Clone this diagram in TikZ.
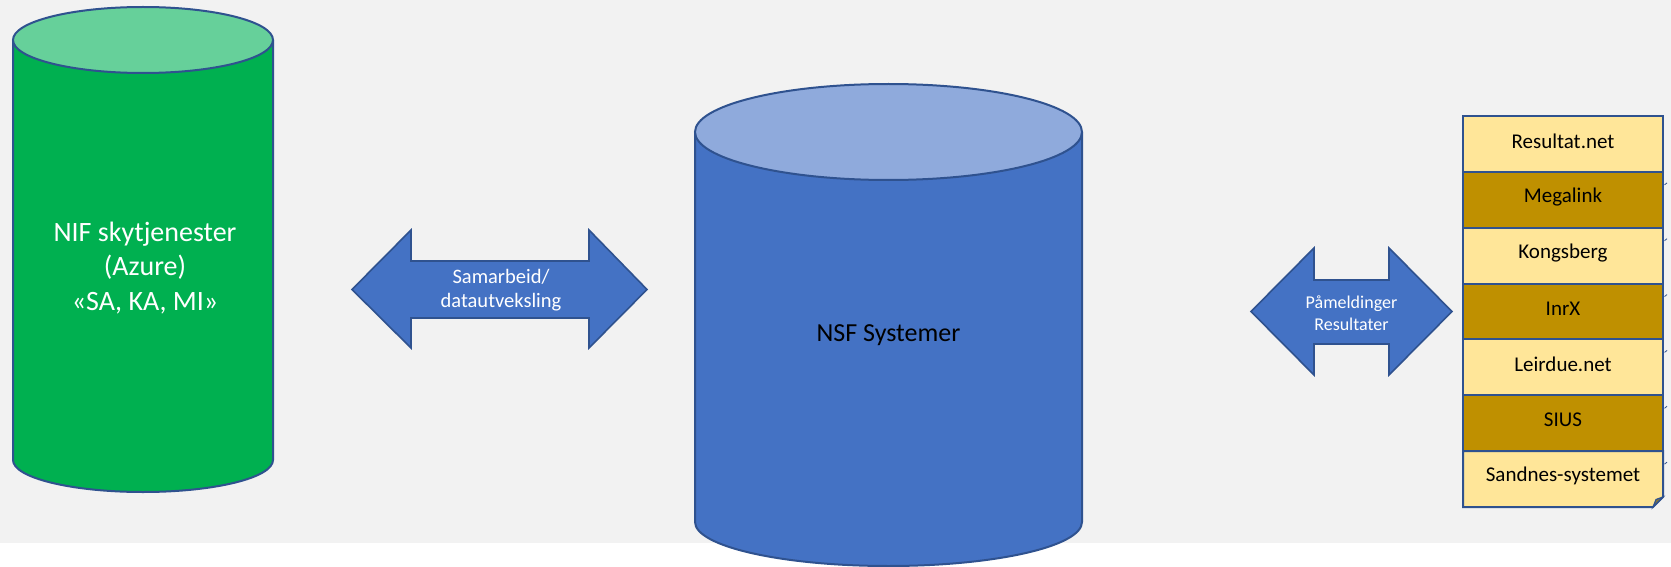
\documentclass[tikz,border=0pt]{standalone}
\usepackage{fontspec}
\setmainfont{Carlito}
\definecolor{bgray}{HTML}{F2F2F2}
\definecolor{bd}{HTML}{2F528F}
\definecolor{gside}{HTML}{00B050}
\definecolor{gtop}{HTML}{66D09A}
\definecolor{bside}{HTML}{4472C4}
\definecolor{btop}{HTML}{8FAADC}
\definecolor{rlight}{HTML}{FFE699}
\definecolor{rdark}{HTML}{BF9000}
\tikzset{
  cyl/.style={draw=bd, line width=2pt},
  arrowshape/.style={draw=bd, fill=bside, line width=1.6pt, line join=miter},
  rowbox/.style={draw=bd, line width=2pt},
  rowtext/.style={text=black, font=\fontsize{21}{25}\selectfont, inner sep=0pt},
}
\begin{document}
\begin{tikzpicture}[x=1pt,y=-1pt]
\useasboundingbox (0,0) rectangle (1671,567);
\fill[white] (0,0) rectangle (1671,567);
\fill[bgray] (0,0) rectangle (1671,543);
% green cylinder
\path[cyl, fill=gside] (13,40) -- (13,460) arc[start angle=180,end angle=0,x radius=130,y radius=32] -- (273,40);
\path[cyl, fill=gtop] (143,40) ellipse[x radius=130, y radius=33];
\node[text=white, align=center, font=\fontsize{28}{34.5}\selectfont, inner sep=0pt] (nif) at (145,268) {NIF skytjenester\\(Azure)\\«SA, KA, MI»};
% blue cylinder
\path[cyl, fill=bside] (695,132) -- (695,522) arc[start angle=180,end angle=0,x radius=193.5,y radius=44] -- (1082,132);
\path[cyl, fill=btop] (888.5,132) ellipse[x radius=193.5, y radius=48];
\node[text=black, font=\fontsize{26}{31}\selectfont, inner sep=0pt] (nsf) at (888.5,335) {NSF Systemer};
% arrow 1
\path[arrowshape] (352,289.5) -- (411,230) -- (411,261) -- (589,261) -- (589,230) -- (647,289.5) -- (589,348) -- (589,318) -- (411,318) -- (411,348) -- cycle;
\node[text=white, align=center, font=\fontsize{20.5}{24}\selectfont, inner sep=0pt] (samarb) at (501,290) {Samarbeid/\\datautveksling};
% arrow 2
\path[arrowshape] (1251,311.5) -- (1314,248) -- (1314,280) -- (1389,280) -- (1389,248) -- (1452,311.5) -- (1389,375) -- (1389,344) -- (1314,344) -- (1314,375) -- cycle;
\node[text=white, align=center, font=\fontsize{18}{22}\selectfont, inner sep=0pt] (paam) at (1351.5,313) {Påmeldinger\\Resultater};
% list
\def\rh{55.857}
\foreach \i/\c/\t in {0/rlight/Resultat.net,1/rdark/Megalink,2/rlight/Kongsberg,3/rdark/InrX,4/rlight/Leirdue.net,5/rdark/SIUS}{
  \pgfmathsetmacro{\ya}{116+\i*\rh}
  \pgfmathsetmacro{\yb}{116+(\i+1)*\rh}
  \path[rowbox, fill=\c] (1463,\ya) rectangle (1663,\yb);
  \node[rowtext] (row\i) at (1563,{(\ya+\yb)/2-3}) {\t};
  \draw[bd, line width=0.8pt] (1664.5,\yb+13) -- (1667,\yb+11);
}
\path[rowbox, fill=rlight, line join=miter] (1463,451.1) -- (1663,451.1) -- (1663,497) -- (1653,507) -- (1463,507) -- cycle;
\path[draw=bd, fill=bd!40!rdark, line width=1.2pt] (1663,497) -- (1656,499.5) -- (1653,507) -- cycle;
\node[rowtext] (row6) at (1563,476) {Sandnes-systemet};
\end{tikzpicture}
\end{document}
